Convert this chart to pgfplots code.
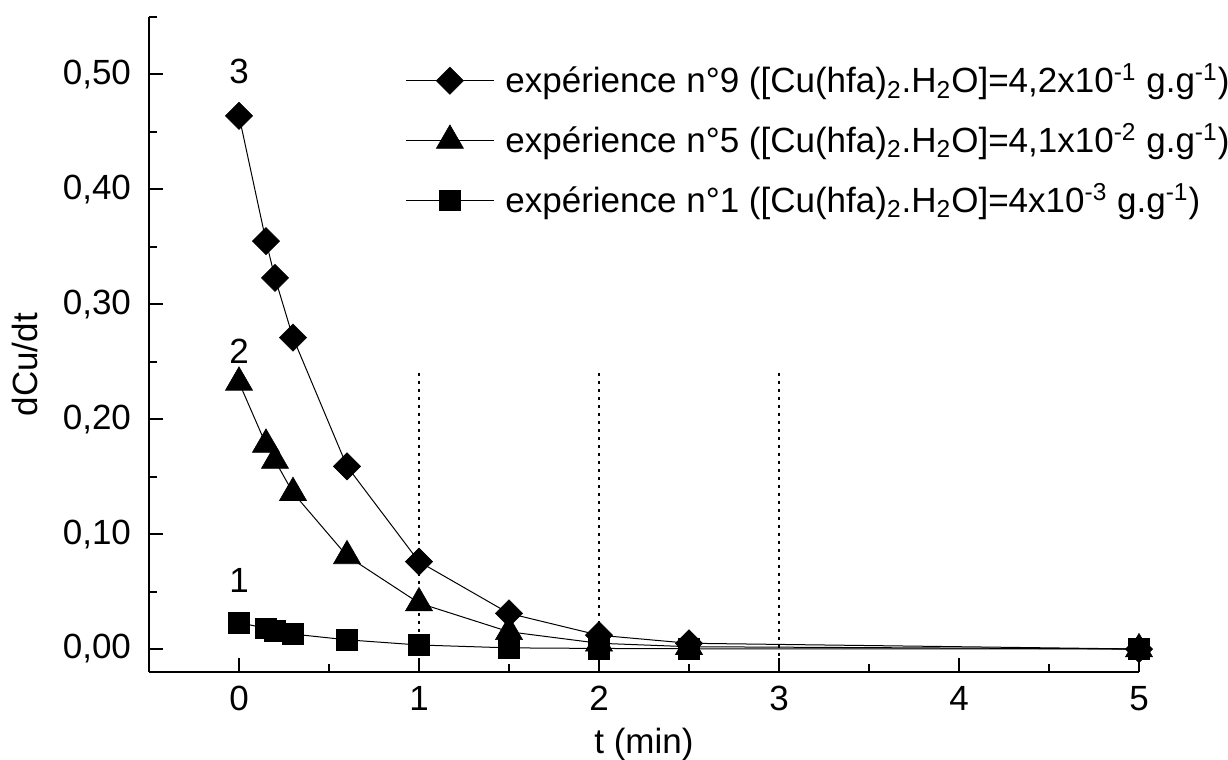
\documentclass[border=0pt]{standalone}
\usepackage{fontspec}
\setmainfont{Liberation Sans}
\usepackage{pgfplots}
\pgfplotsset{compat=1.18}
\begin{document}
\fontsize{17.5}{21}\selectfont
\begin{tikzpicture}
\begin{axis}[
  scale only axis,
  width=495pt, height=327.5pt,
  xmin=-0.5, xmax=5, ymin=-0.02, ymax=0.55,
  axis x line=bottom, axis y line=left,
  axis line style={-, line width=1pt},
  tick align=inside,
  major tick length=7pt, minor tick length=4pt,
  every tick/.style={line width=1pt, black},
  xtick={0,1,2,3,4,5},
  minor xtick={0.5,1.5,2.5,3.5,4.5},
  ytick={0,0.1,0.2,0.3,0.4,0.5},
  minor ytick={0.05,0.15,0.25,0.35,0.45,0.55},
  /pgf/number format/assume math mode=true,
  yticklabel style={/pgf/number format/fixed, /pgf/number format/fixed zerofill, /pgf/number format/precision=2, /pgf/number format/use comma, xshift=-3pt},
  xticklabel style={yshift=-1pt},
  xlabel={t (min)}, ylabel={dCu/dt},
  xlabel style={at={(axis description cs:0.5,-0.110)}, anchor=center},
  ylabel style={at={(axis description cs:-0.125,0.469)}, anchor=center},
  clip=false,
  legend cell align=left,
  legend style={draw=none, fill=none, at={(rel axis cs:0.2586,1)}, anchor=north west, yshift=-21pt, row sep=8.5pt, inner sep=0pt, font=\fontsize{17.5}{21}\selectfont},
  legend image code/.code={\draw[mark repeat=2,mark phase=2,#1] plot coordinates {(0pt,0pt)(22pt,0pt)(44pt,0pt)}; \path (47.5pt,0pt);},
]
\addplot[black, line width=0.5pt, mark=square*, mark size=4.8pt, mark options={rotate=45, fill=black, line width=0.3pt}] coordinates {
(0,0.464)(0.15,0.355)(0.2,0.323)(0.3,0.271)(0.6,0.159)(1,0.076)(1.5,0.031)(2,0.012)(2.5,0.005)(5,0.000)};
\addlegendentry{expérience n°9 ([Cu(hfa)\textsubscript{2}.H\textsubscript{2}O]=4,2x10\textsuperscript{-1} g.g\textsuperscript{-1})}
\addplot[black, line width=0.5pt, mark=triangle*, mark size=7.8pt, mark options={fill=black, line width=0.3pt}] coordinates {
(0,0.232)(0.15,0.178)(0.2,0.164)(0.3,0.136)(0.6,0.081)(1,0.040)(1.5,0.015)(2,0.005)(2.5,0.002)(5,0.000)};
\addlegendentry{expérience n°5 ([Cu(hfa)\textsubscript{2}.H\textsubscript{2}O]=4,1x10\textsuperscript{-2} g.g\textsuperscript{-1})}
\addplot[black, line width=0.5pt, mark=square*, mark size=5.2pt, mark options={fill=black, line width=0.3pt}] coordinates {
(0,0.023)(0.15,0.018)(0.2,0.016)(0.3,0.013)(0.6,0.008)(1,0.0035)(1.5,0.001)(2,0.0005)(2.5,0.0002)(5,0.000)};
\addlegendentry{expérience n°1 ([Cu(hfa)\textsubscript{2}.H\textsubscript{2}O]=4x10\textsuperscript{-3} g.g\textsuperscript{-1})}
\addplot[black, line width=0.9pt, dash pattern=on 1.3pt off 2.7pt, forget plot] coordinates {(1,-0.02)(1,0.24)};
\addplot[black, line width=0.9pt, dash pattern=on 1.3pt off 2.7pt, forget plot] coordinates {(2,-0.02)(2,0.24)};
\addplot[black, line width=0.9pt, dash pattern=on 1.3pt off 2.7pt, forget plot] coordinates {(3,-0.02)(3,0.24)};
\node at (axis cs:0,0.503) {3};
\node at (axis cs:0,0.259) {2};
\node at (axis cs:0,0.060) {1};
\end{axis}
\pgfresetboundingbox
\path (-74.5pt,-44pt) rectangle (539.5pt,336pt);
\end{tikzpicture}
\end{document}
